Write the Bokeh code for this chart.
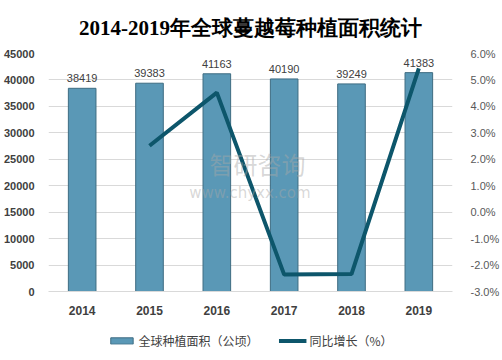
from bokeh.plotting import figure
from bokeh.layouts import column
from bokeh.models import (Range1d, LinearAxis, SingleIntervalTicker, PrintfTickFormatter,
                          Legend, LegendItem, Label)
from bokeh.embed import file_html
from bokeh.resources import INLINE
from bokeh.core.properties import value

# ---- data ----
years = ["2014", "2015", "2016", "2017", "2018", "2019"]
area = [38419, 39383, 41163, 40190, 39249, 41383]
growth_years = ["2015", "2016", "2017", "2018", "2019"]
growth = [2.51, 4.52, -2.36, -2.34, 5.44]
title_text = "2014-2019年全球蔓越莓种植面积统计"
bar_label = "全球种植面积（公顷）"
line_label = "同比增长（%）"

CJK = "Noto Sans CJK SC"
BAR_FILL = "#5A98B6"
BAR_EDGE = "#3E6C82"
LINE_COL = "#0D566B"

p = figure(width=502, height=326, x_range=years, y_range=Range1d(0, 45000),
           output_backend="svg", toolbar_location=None,
           min_border_left=47, min_border_right=45, min_border_top=51, min_border_bottom=35)
p.extra_y_ranges = {"pct": Range1d(-3, 6)}
p.outline_line_color = None

p.title.text = title_text
p.title.align = "center"
p.title.text_font = "Liberation Serif"
p.title.text_font_size = "21px"
p.title.text_font_style = "bold"
p.title.text_color = "#000000"
p.title.standoff = 27

bars = p.vbar(x=years, top=area, width=0.41, fill_color=BAR_FILL,
              line_color=BAR_EDGE, line_width=1)
line = p.line(x=growth_years, y=growth, y_range_name="pct",
              line_color=LINE_COL, line_width=4)

p.text(x=years, y=area, text=[str(a) for a in area], text_align="center",
       text_baseline="bottom", y_offset=-6, text_font_size="11px",
       text_font=value("Liberation Sans"), text_color="#404040")

# left axis
ya = p.yaxis[0]
ya.ticker = SingleIntervalTicker(interval=5000)
ya.axis_line_color = None
ya.major_tick_line_color = None
ya.minor_tick_line_color = None
ya.major_label_text_font = "Liberation Sans"
ya.major_label_text_font_style = "bold"
ya.major_label_text_font_size = "11px"
ya.major_label_text_color = "#404040"
ya.major_label_standoff = 8

p.ygrid.grid_line_color = "#D9D9D9"
p.xgrid.grid_line_color = None

xa = p.xaxis[0]
xa.axis_line_color = "#D9D9D9"
xa.major_tick_line_color = None
xa.minor_tick_line_color = None
xa.major_label_text_font = "Liberation Sans"
xa.major_label_text_font_style = "bold"
xa.major_label_text_font_size = "12px"
xa.major_label_text_color = "#404040"
xa.major_label_standoff = 8

ra = LinearAxis(y_range_name="pct", ticker=SingleIntervalTicker(interval=1),
                formatter=PrintfTickFormatter(format="%.1f%%"))
ra.axis_line_color = None
ra.major_tick_line_color = None
ra.minor_tick_line_color = None
ra.major_label_text_font = "Liberation Sans"
ra.major_label_text_font_size = "11px"
ra.major_label_text_color = "#595959"
ra.major_label_standoff = 12
p.add_layout(ra, "right")

# watermark
p.add_layout(Label(x=2.39, y=20800, text="智研咨询", text_font=CJK,
                   text_font_size="24px", text_color="#A8A8A8", text_alpha=0.45))
p.add_layout(Label(x=2.09, y=16900, text="www.chyxx.com", text_font="DejaVu Sans",
                   text_font_size="15px", text_color="#A8A8A8", text_alpha=0.45))

# legend strip (hidden sample glyphs lie outside its visible range)
lf = figure(width=502, height=28, x_range=Range1d(0, 1), y_range=Range1d(0, 1),
            output_backend="svg", toolbar_location=None,
            x_axis_location=None, y_axis_location=None,
            min_border=0)
lf.outline_line_color = None
lf.grid.grid_line_color = None
lb = lf.vbar(x=[-5], top=[-4], bottom=[-5], width=0.1, fill_color=BAR_FILL,
             line_color=BAR_EDGE, line_width=1)
ll = lf.line(x=[-5, -4], y=[-5, -5], line_color=LINE_COL, line_width=4)

legend = Legend(items=[LegendItem(label=bar_label, renderers=[lb]),
                       LegendItem(label=line_label, renderers=[ll])],
                orientation="horizontal", location="center")
legend.border_line_color = None
legend.background_fill_color = None
legend.label_text_font = CJK
legend.label_text_font_size = "12px"
legend.label_text_color = "#404040"
legend.glyph_width = 28
legend.glyph_height = 8
legend.label_height = 12
legend.spacing = 20
legend.label_standoff = 3
legend.padding = 0
legend.margin = 0
lf.add_layout(legend)

layout = column(p, lf, spacing=0)
open("out.html", "w").write(file_html(layout, INLINE))
